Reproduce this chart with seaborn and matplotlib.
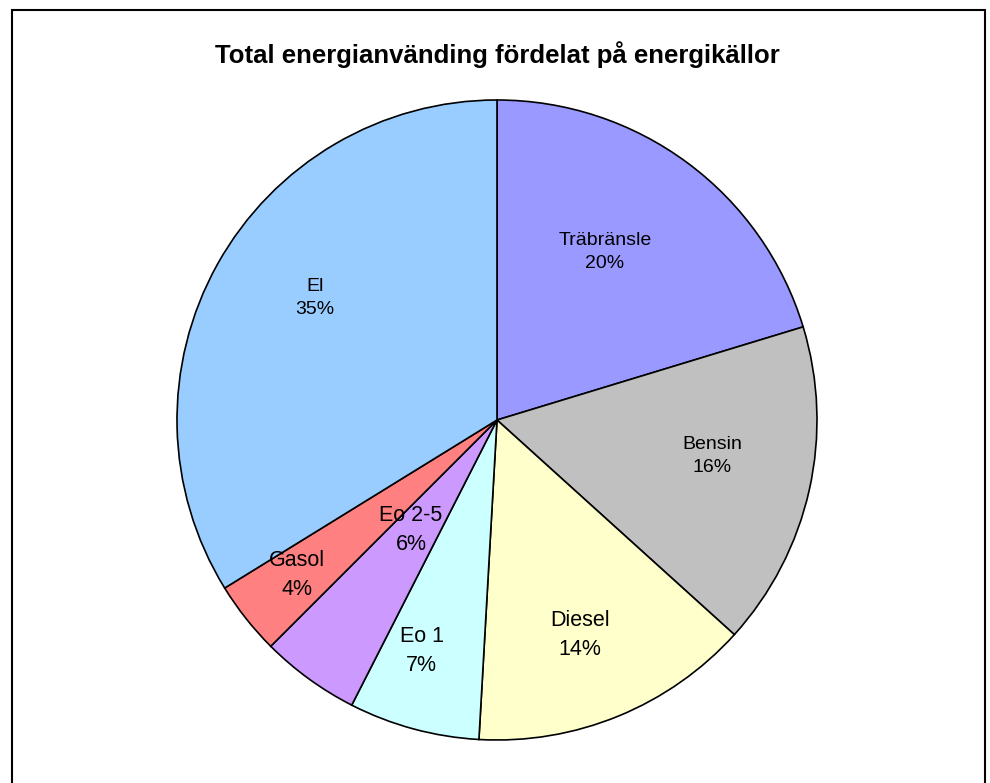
import numpy as np
import matplotlib
matplotlib.use('Agg')
import matplotlib.pyplot as plt
import seaborn as sns
from matplotlib.patches import Rectangle

# Shares, labels as printed in the chart
sources = ['Träbränsle', 'Bensin', 'Diesel', 'Eo 1', 'Eo 2-5', 'Gasol', 'El']
shares = [20.3, 16.4, 14.2, 6.6, 5.0, 3.7, 33.8]
pct_labels = ['20%', '16%', '14%', '7%', '6%', '4%', '35%']

colors = ['#9999FF', '#C0C0C0', '#FFFFCC', '#CCFFFF', '#CC99FF', '#FF8080', '#99CCFF']
# where each label sits: fraction of radius and angle offset from the wedge middle
label_r = [0.624, 0.681, 0.72, 0.759, 0.436, 0.79, 0.685]
label_dang = [3.8, 3.1, -1.2, -2.9, -2.0, -0.5, -4.6]
label_size = [14, 14, 15.5, 15.5, 15.5, 15.5, 14]

sns.set_theme(style='white')
plt.rcParams['font.family'] = ['Liberation Sans', 'DejaVu Sans']

fig = plt.figure(figsize=(9.9, 7.83), dpi=100)
fig.patch.set_facecolor('white')

# outer chart border (bottom edge runs off the image)
fig.patches.append(Rectangle((12 / 990, -0.05), (985 - 12) / 990, (783 - 10) / 783 + 0.05,
                             transform=fig.transFigure, fill=False, edgecolor='black',
                             linewidth=1.5))

ax = fig.add_axes([177 / 990, (783 - 740) / 783, 640 / 990, 640 / 783])
wedges, _ = ax.pie(shares, colors=colors, startangle=90, counterclock=False,
                   wedgeprops=dict(edgecolor='black', linewidth=1.2))
ax.set_xlim(-1, 1)
ax.set_ylim(-1, 1)
ax.set_aspect('equal')
ax.axis('off')

for w, name, pct, r, da, fs in zip(wedges, sources, pct_labels, label_r, label_dang, label_size):
    mid = np.deg2rad((w.theta1 + w.theta2) / 2 + da)
    ax.text(r * np.cos(mid), r * np.sin(mid), f'{name}\n{pct}', ha='center', va='center',
            fontsize=fs, linespacing=1.45, color='black')

fig.text(497 / 990, 1 - 55 / 783, 'Total energianvänding fördelat på energikällor',
         ha='center', va='center', fontsize=18.5, fontweight='bold', color='black')

fig.savefig('out.png', dpi=100)
